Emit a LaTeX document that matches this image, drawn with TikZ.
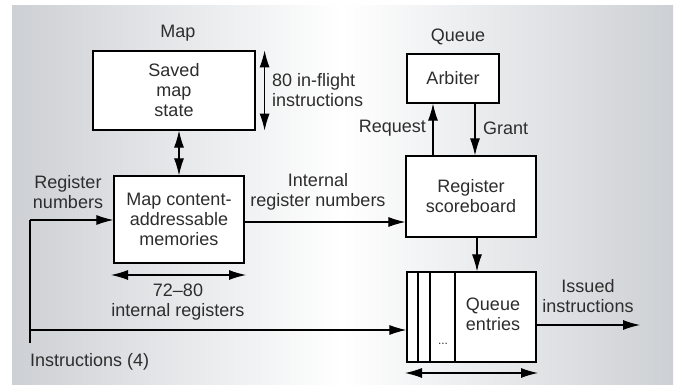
\documentclass[tikz,border=0pt]{standalone}
\usepackage{fontspec}
\setmainfont{Liberation Sans}
\usetikzlibrary{arrows.meta}
\definecolor{bgg}{RGB}{205,208,212}
\definecolor{txt}{RGB}{45,45,45}
\begin{document}
\begin{tikzpicture}[x=1pt,y=-1pt,
  lbl/.style={inner sep=0pt,align=center,text=txt,font=\fontsize{18}{20}\selectfont},
  blk/.style={draw,line width=1.2pt,fill=white,inner sep=0pt,align=center,text=txt,font=\fontsize{18}{20}\selectfont},
  tip/.style={},
  arr/.style={line width=1.1pt,-{Latex[length=17pt,width=10pt]}},
  dbl/.style={line width=1.1pt,{Latex[length=17pt,width=10pt]}-{Latex[length=17pt,width=10pt]}},
  ln/.style={line width=1.1pt}]
\useasboundingbox (0,0) rectangle (675,385);
\shade[left color=bgg,right color=bgg,middle color=white] (12,6) rectangle (673,385);
% blocks
\node[blk,minimum width=162pt,minimum height=79pt] (saved) at (174,90.5) {Saved\\map\\state};
\node[blk,minimum width=130pt,minimum height=87pt] (cam) at (179,219.5) {Map content-\\addressable\\memories};
\node[blk,minimum width=92pt,minimum height=49pt] (arb) at (453,78.5) {Arbiter};
\node[blk,minimum width=130pt,minimum height=81pt] (sb) at (471,196.5) {Register\\scoreboard};
\node[blk,minimum width=129pt,minimum height=90pt] (qe) at (471.5,317) {};
\draw[line width=1.1pt] (418,272) -- (418,362) (430,272) -- (430,362) (455,272) -- (455,362);
\node[lbl] (qet) at (493,314) {Queue\\entries};
\node[lbl,font=\fontsize{12}{12}\selectfont] (dots) at (443,344) {...};
% labels
\node[lbl] (maplbl) at (178,33) {Map};
\node[lbl,anchor=west,align=left] (flight) at (272,90) {80 in-flight\\instructions};
\node[lbl] (regnum) at (68,192) {Register\\numbers};
\node[lbl] (intreg) at (318,192) {Internal\\register numbers};
\node[lbl] (intregs) at (178,302) {72--80\\internal registers};
\node[lbl,anchor=west] (instr) at (30,362) {Instructions (4)};
\node[lbl] (queuelbl) at (458,37) {Queue};
\node[lbl,anchor=east] (req) at (426,128) {Request};
\node[lbl,anchor=west] (grant) at (483,128) {Grant};
\node[lbl] (issued) at (588,296) {Issued\\instructions};
% coordinates
\coordinate (in) at (30,220);
\coordinate (bot) at (30,343);
\coordinate (j) at (30,330);
\coordinate (w1) at (111,275);
\coordinate (w2) at (246,275);
\coordinate (rqx) at (433,0);
\coordinate (gx) at (475,0);
\coordinate (dx) at (477,0);
\coordinate (iy) at (0,325);
\coordinate (ie) at (640,325);
\coordinate (q1) at (405,373);
\coordinate (q2) at (538,373);
% connectors
\draw[dbl] ([xshift=9pt]saved.north east) -- ([xshift=9pt]saved.south east);
\draw[dbl] (cam.north) -- (cam.north |- saved.south);
\draw[arr] (in) -- (in -| cam.west);
\draw[ln] (in) -- (bot);
\draw[arr] (j) -- (j -| qe.west);
\draw[dbl] (w1) -- (w2);
\draw[arr] ([yshift=-2.5pt]cam.east) -- ([yshift=-2.5pt]cam.east -| sb.west);
\draw[arr] (sb.north -| rqx) -- (arb.south -| rqx);
\draw[arr] (arb.south -| gx) -- (sb.north -| gx);
\draw[arr] (sb.south -| dx) -- (qe.north -| dx);
\draw[arr] (qe.east |- iy) -- (ie);
\draw[dbl] (q1) -- (q2);
\end{tikzpicture}
\end{document}
